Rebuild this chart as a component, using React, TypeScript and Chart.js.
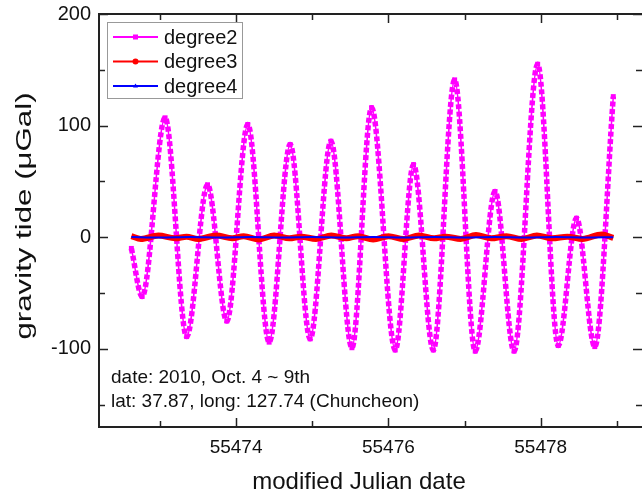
import React, { useEffect, useRef } from 'react';
import { Chart, registerables } from 'chart.js';

Chart.register(...registerables);

// ---- data ----
const seriesNames = ['degree2', 'degree3', 'degree4'];

// degree 2 tide: turning points (MJD, µGal)
const deg2Mjd = [
  55472.625, 55472.767, 55473.068, 55473.351, 55473.625, 55473.878, 55474.154,
  55474.434, 55474.71, 55474.973, 55475.245, 55475.521, 55475.779, 55476.09,
  55476.33, 55476.59, 55476.87, 55477.14, 55477.4, 55477.65, 55477.96,
  55478.23, 55478.47, 55478.71, 55478.953,
];
const deg2Val = [
  -10, -53, 107, -89, 47, -75, 101, -94, 83, -91, 86, -99, 116, -101, 65, -101,
  141, -102, 41, -102, 155, -97, 17, -98, 126,
];

// degree 3 tide
const deg3Mjd = [
  55472.625, 55472.75, 55472.98, 55473.2, 55473.35, 55473.5, 55473.74, 55473.95,
  55474.1, 55474.3, 55474.5, 55474.7, 55474.85, 55475.05, 55475.25, 55475.45,
  55475.6, 55475.8, 55476.0, 55476.2, 55476.4, 55476.6, 55476.75, 55476.95,
  55477.15, 55477.35, 55477.55, 55477.75, 55477.95, 55478.15, 55478.35,
  55478.55, 55478.8, 55478.953,
];
const deg3Val = [
  1, -1.5, 1.5, -1, 0.5, -1.5, 1.5, -1, 1, -2, 1.5, -1, 0.5, -1.5, 1.5, -1, 1,
  -2, 1, -1.5, 1.5, -1, 0.5, -1.5, 2, -1, 1, -1.5, 1.5, -1, 0.5, -1.5, 2.5, -0.5,
];

// degree 4 tide
const deg4Mjd = [
  55472.625, 55473.0, 55473.4, 55473.8, 55474.2, 55474.6, 55475.0, 55475.4,
  55475.8, 55476.2, 55476.6, 55477.0, 55477.4, 55477.8, 55478.2, 55478.6, 55478.953,
];
const deg4Val = [
  0.3, -0.2, 0.2, -0.3, 0.2, -0.2, 0.3, -0.2, 0.2, -0.3, 0.2, -0.2, 0.3, -0.2,
  0.2, -0.3, 0.1,
];

const xTickLabels = [55474, 55476, 55478];
const yTickLabels = [-100, 0, 100, 200];
const xTitle = 'modified Julian date';
const yTitle = 'gravity tide (\u03bcGal)';
const noteLines = ['date: 2010, Oct. 4 ~ 9th', 'lat: 37.87, long: 127.74 (Chuncheon)'];

const FONT = "'Liberation Sans', Arial, sans-serif";
const MAGENTA = '#ff00ff';
const RED = '#ff0000';
const BLUE = '#0000ff';

const pts = (xs: number[], ys: number[]) => xs.map((x, i) => ({ x, y: ys[i] }));

const decor = {
  id: 'decor',
  afterDraw(chart: any) {
    const { ctx, chartArea: a, scales } = chart;
    const xs = scales.x;
    const ys = scales.y;
    ctx.save();
    const line = (x1: number, y1: number, x2: number, y2: number) => {
      ctx.beginPath();
      ctx.moveTo(x1, y1);
      ctx.lineTo(x2, y2);
      ctx.stroke();
    };
    // frame (right side lies at the canvas edge)
    ctx.strokeStyle = '#222';
    ctx.lineWidth = 2;
    ctx.beginPath();
    ctx.moveTo(chart.width, a.top);
    ctx.lineTo(a.left, a.top);
    ctx.lineTo(a.left, a.bottom);
    ctx.lineTo(chart.width, a.bottom);
    ctx.stroke();
    // inward ticks
    ctx.lineWidth = 1.5;
    xs.ticks.forEach((t: any) => {
      const px = Math.round(xs.getPixelForValue(t.value)) + 0.5;
      const len = xTickLabels.includes(t.value) ? 9 : 6;
      line(px, a.bottom, px, a.bottom - len);
      line(px, a.top, px, a.top + len);
    });
    ys.ticks.forEach((t: any) => {
      const py = Math.round(ys.getPixelForValue(t.value)) + 0.5;
      const len = yTickLabels.includes(t.value) ? 9 : 6;
      line(a.left, py, a.left + len, py);
      line(a.right, py, a.right - len, py);
    });

    // legend
    const lx = 107, ly = 22, lw = 135, lh = 76;
    ctx.fillStyle = '#fff';
    ctx.fillRect(lx, ly, lw, lh);
    ctx.strokeStyle = '#999';
    ctx.lineWidth = 1;
    ctx.strokeRect(lx + 0.5, ly + 0.5, lw, lh);
    const colors = [MAGENTA, RED, BLUE];
    ctx.font = `20px ${FONT}`;
    ctx.textBaseline = 'middle';
    ctx.textAlign = 'left';
    seriesNames.forEach((name, i) => {
      const cy = 37 + i * 24.5;
      ctx.strokeStyle = colors[i];
      ctx.fillStyle = colors[i];
      ctx.lineWidth = 2;
      line(113, cy, 158, cy);
      const mx = 135.5;
      if (i === 0) {
        ctx.fillRect(mx - 2.5, cy - 2.5, 5, 5);
      } else if (i === 1) {
        ctx.beginPath();
        ctx.arc(mx, cy, 3, 0, Math.PI * 2);
        ctx.fill();
      } else {
        ctx.beginPath();
        ctx.moveTo(mx, cy - 2.5);
        ctx.lineTo(mx + 2.5, cy + 1.5);
        ctx.lineTo(mx - 2.5, cy + 1.5);
        ctx.closePath();
        ctx.fill();
      }
      ctx.fillStyle = '#111';
      ctx.fillText(name, 164, cy + 1);
    });

    // notes
    ctx.font = `19px ${FONT}`;
    ctx.fillStyle = '#111';
    noteLines.forEach((s, i) => ctx.fillText(s, 111, 378 + i * 24));

    // x title
    ctx.textAlign = 'center';
    ctx.font = `24px ${FONT}`;
    ctx.fillText(xTitle, 359, 482);

    // y title
    ctx.save();
    ctx.translate(25, 216);
    ctx.rotate(-Math.PI / 2);
    ctx.scale(1.42, 1);
    ctx.font = `22px ${FONT}`;
    ctx.fillText(yTitle, 0, 0);
    ctx.restore();

    ctx.restore();
  },
};

export default function App() {
  const ref = useRef<HTMLCanvasElement | null>(null);
  useEffect(() => {
    if (!ref.current) return;
    const chart = new Chart(ref.current, {
      type: 'line',
      data: {
        datasets: [
          {
            label: 'degree4',
            data: pts(deg4Mjd, deg4Val),
            borderColor: BLUE,
            borderWidth: 2,
            pointRadius: 0,
            cubicInterpolationMode: 'monotone',
            order: 1,
          },
          {
            label: 'degree3',
            data: pts(deg3Mjd, deg3Val),
            borderColor: RED,
            borderWidth: 6,
            pointRadius: 0,
            cubicInterpolationMode: 'monotone',
            order: 2,
          },
          {
            label: 'degree2',
            data: pts(deg2Mjd, deg2Val),
            borderColor: MAGENTA,
            backgroundColor: MAGENTA,
            borderWidth: 5.5,
            borderDash: [5, 2.5],
            borderCapStyle: 'butt',
            pointStyle: 'rect',
            pointRadius: 3.5,
            pointBorderWidth: 0,
            pointBackgroundColor: MAGENTA,
            cubicInterpolationMode: 'monotone',
            order: 3,
          },
          {
            label: 'degree2-line',
            data: pts(deg2Mjd, deg2Val),
            borderColor: MAGENTA,
            borderWidth: 1.5,
            pointRadius: 0,
            cubicInterpolationMode: 'monotone',
            order: 4,
          },
        ],
      },
      options: {
        animation: false,
        responsive: false,
        devicePixelRatio: 1,
        parsing: false as any,
        layout: { autoPadding: false, padding: { top: 14, right: 0, left: 0, bottom: 0 } },
        plugins: { legend: { display: false }, tooltip: { enabled: false } },
        scales: {
          x: {
            type: 'linear',
            position: 'bottom',
            min: 55472.2,
            max: 55479.33,
            afterFit: (s: any) => {
              s.height = 74;
              s.paddingLeft = 0;
              s.paddingRight = 0;
            },
            grid: { display: false, drawTicks: false },
            border: { display: false },
            ticks: {
              stepSize: 1,
              includeBounds: false,
              autoSkip: false,
              maxRotation: 0,
              padding: 9,
              color: '#111',
              font: { family: FONT, size: 19 },
              callback: (v: any) => (xTickLabels.includes(Number(v)) ? String(v) : ''),
            },
          },
          y: {
            type: 'linear',
            min: -170,
            max: 200,
            afterFit: (s: any) => {
              s.width = 99;
              s.paddingTop = 0;
              s.paddingBottom = 0;
            },
            grid: { display: false, drawTicks: false },
            border: { display: false },
            ticks: {
              stepSize: 50,
              includeBounds: false,
              padding: 8,
              color: '#111',
              font: { family: FONT, size: 20 },
              callback: (v: any) => (yTickLabels.includes(Number(v)) ? String(v) : ''),
            },
          },
        },
      },
      plugins: [decor],
    } as any);
    return () => chart.destroy();
  }, []);
  return (
    <div style={{ position: 'fixed', left: 0, top: 0, width: 642, height: 501, background: '#fff' }}>
      <canvas ref={ref} width={642} height={501} style={{ display: 'block' }} />
    </div>
  );
}
